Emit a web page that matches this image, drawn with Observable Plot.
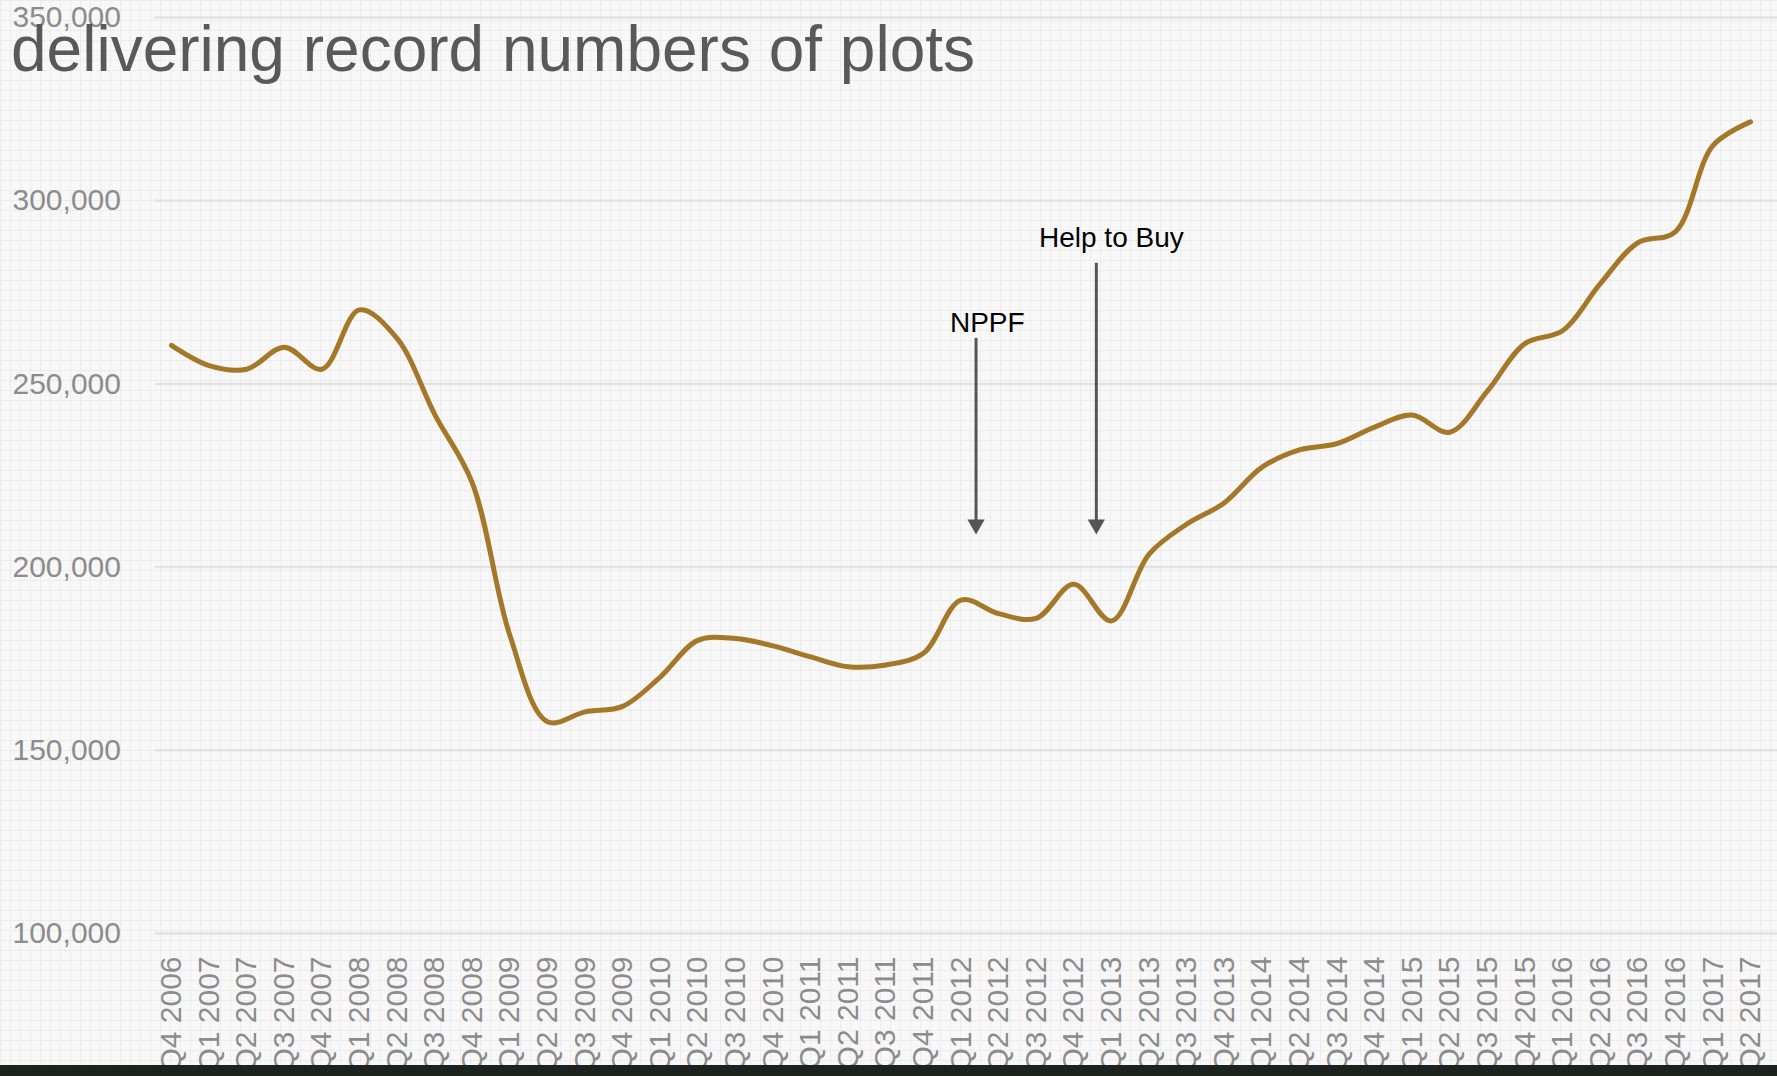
<!DOCTYPE html>
<html>
<head>
<meta charset="utf-8">
<script src="https://cdn.jsdelivr.net/npm/d3@7"></script>
<script src="https://cdn.jsdelivr.net/npm/@observablehq/plot@0.6"></script>
<style>
html, body { margin: 0; padding: 0; width: 1777px; height: 1076px; overflow: hidden; }
body {
  position: relative;
  background-color: #f8f8f8;
  background-image: linear-gradient(#ececec 1px, transparent 1px), linear-gradient(90deg, #ececec 1px, transparent 1px);
  background-size: 10px 10px;
  font-family: "Liberation Sans", Arial, sans-serif;
}
#chart { position: absolute; left: 0; top: 0; }
#title { position: absolute; left: 11px; top: 17px; font-size: 64px; line-height: 64px; color: #595959; white-space: nowrap; }
#band { position: absolute; left: 0; right: 0; bottom: 0; height: 11px; background: #1c221d; }
</style>
</head>
<body>
<div id="chart"></div>
<div id="title">delivering record numbers of plots</div>
<div id="band"></div>
<script>
const quarters = [
  "Q4 2006",
  "Q1 2007","Q2 2007","Q3 2007","Q4 2007",
  "Q1 2008","Q2 2008","Q3 2008","Q4 2008",
  "Q1 2009","Q2 2009","Q3 2009","Q4 2009",
  "Q1 2010","Q2 2010","Q3 2010","Q4 2010",
  "Q1 2011","Q2 2011","Q3 2011","Q4 2011",
  "Q1 2012","Q2 2012","Q3 2012","Q4 2012",
  "Q1 2013","Q2 2013","Q3 2013","Q4 2013",
  "Q1 2014","Q2 2014","Q3 2014","Q4 2014",
  "Q1 2015","Q2 2015","Q3 2015","Q4 2015",
  "Q1 2016","Q2 2016","Q3 2016","Q4 2016",
  "Q1 2017","Q2 2017"
];
const plots = [
  260500,
  255000, 254000, 260000, 254000,
  270200, 262400, 241700, 223000,
  181400, 157800, 160500, 162000,
  170000, 180000, 180500, 178500,
  175500, 172800, 173300, 176500,
  191000, 187300, 186000, 195300,
  185300, 203500, 211700, 217500,
  227200, 232000, 233700, 238200,
  241500, 236800, 248000, 261000,
  264500, 277300, 288500, 291500,
  315000, 321500
];
const yTicks = [100000, 150000, 200000, 250000, 300000, 350000];

const notes = ["NPPF", "Help to Buy"];
const noteAt = [21.4, 24.6];
const noteTop = [262400, 282900];
const noteTip = [208900, 208900];
const noteTextAt = [21.7, 25.0];
const noteTextY = [264300, 287500];

const data = quarters.map((q, i) => ({i, q, v: plots[i]}));
const noteIdx = d3.range(notes.length);

const chart = Plot.plot({
  width: 1777,
  height: 1076,
  marginTop: 17,
  marginBottom: 143,
  marginLeft: 171,
  marginRight: 27,
  style: {background: "transparent", overflow: "hidden", color: "#8c8c8c", fontFamily: "'Liberation Sans', Arial, sans-serif"},
  x: {domain: [0, quarters.length - 1], axis: null, label: null},
  y: {domain: [100000, 350000], axis: null, label: null},
  marks: [
    Plot.ruleY(yTicks, {x1: -0.43, x2: 43, stroke: "#e3e3e3", strokeWidth: 2.5}),
    Plot.axisY(yTicks, {label: null, tickSize: 0, tickPadding: 159, textAnchor: "start", tickFormat: d3.format(","), fontSize: 30, fill: "#8c8c8c"}),
    Plot.axisX(d3.range(quarters.length), {label: null, tickSize: 0, tickPadding: 23, tickRotate: -90, tickFormat: i => quarters[i], fontSize: 30, fill: "#8c8c8c"}),
    Plot.ruleX(noteIdx, {x: i => noteAt[i], y1: i => noteTop[i], y2: i => noteTip[i], insetBottom: 8, stroke: "#555555", strokeWidth: 3}),
    Plot.dot(noteIdx, {x: i => noteAt[i], y: i => noteTip[i], symbol: "triangle", rotate: 180, r: 6.4, fill: "#555555", stroke: "none", dy: -10}),
    Plot.text(noteIdx, {x: i => noteTextAt[i], y: i => noteTextY[i], text: i => notes[i], fontSize: 28, fill: "#000000", lineAnchor: "bottom"}),
    Plot.line(data, {x: "i", y: "v", curve: "catmull-rom", stroke: "#a47828", strokeWidth: 5, strokeLinecap: "round", strokeLinejoin: "round"})
  ]
});
document.getElementById("chart").appendChild(chart);
</script>
</body>
</html>
